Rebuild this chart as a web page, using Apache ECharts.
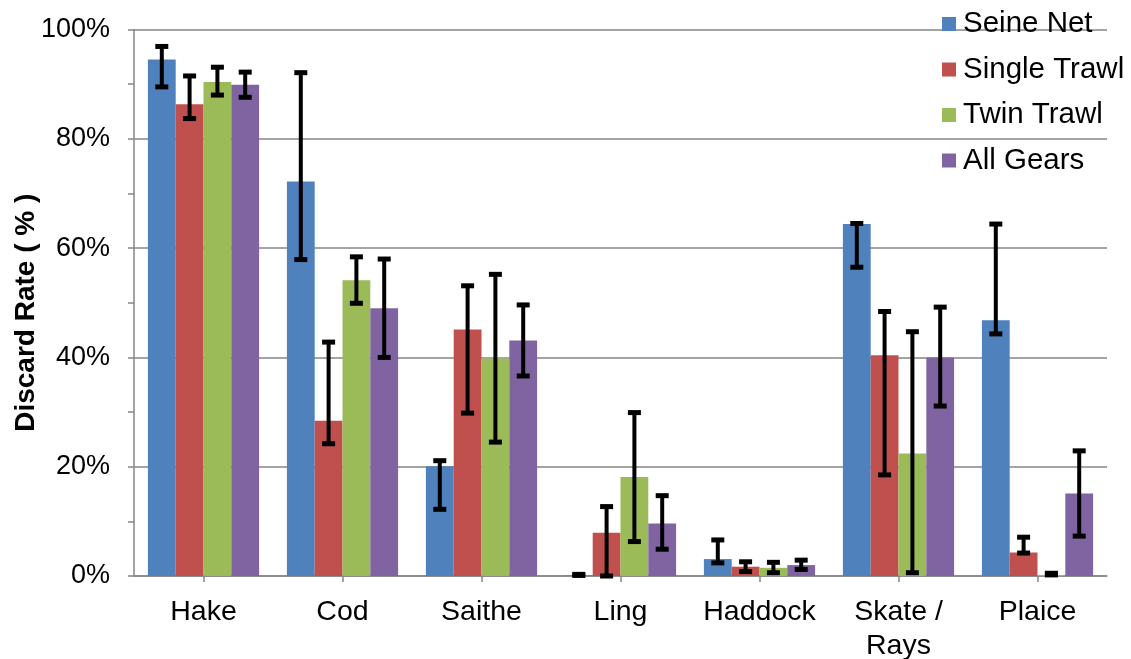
<!DOCTYPE html>
<html>
<head>
<meta charset="utf-8">
<script src="https://cdn.jsdelivr.net/npm/echarts@6/dist/echarts.min.js"></script>
<style>html,body{margin:0;padding:0;background:#fff}#c{width:1131px;height:659px}</style>
</head>
<body>
<div id="c"></div>
<script>
const categories = ['Hake', 'Cod', 'Saithe', 'Ling', 'Haddock', 'Skate /\nRays', 'Plaice'];
const seriesNames = ['Seine Net', 'Single Trawl', 'Twin Trawl', 'All Gears'];
const seineNet    = [94.5, 72.2, 20.1, 0.1, 3.1, 64.4, 46.8];
const singleTrawl = [86.3, 28.4, 45.1, 7.9, 1.7, 40.4, 4.3];
const twinTrawl   = [90.4, 54.1, 39.8, 18.1, 1.5, 22.4, 0.2];
const allGears    = [89.9, 49.0, 43.1, 9.6, 2.0, 40.0, 15.1];
// error bar [low, high]
const seineNetErr    = [[89.5, 96.9], [57.9, 92.1], [12.2, 21.1], [0.1, 0.3], [2.4, 6.6], [56.5, 64.5], [44.3, 64.4]];
const singleTrawlErr = [[83.7, 91.5], [24.2, 42.8], [29.8, 53.1], [0.0, 12.7], [0.8, 2.6], [18.5, 48.4], [4.2, 7.1]];
const twinTrawlErr   = [[88.0, 93.1], [49.9, 58.4], [24.5, 55.2], [6.3, 29.9], [0.6, 2.5], [0.6, 44.7], [0.2, 0.5]];
const allGearsErr    = [[87.6, 92.2], [40.0, 58.0], [36.6, 49.6], [4.9, 14.7], [1.2, 2.9], [31.1, 49.2], [7.3, 22.9]];
const yTicks = [0, 20, 40, 60, 80, 100];

const values = [seineNet, singleTrawl, twinTrawl, allGears];
const errs = [seineNetErr, singleTrawlErr, twinTrawlErr, allGearsErr];
const colors = ['#4F81BD', '#C0504D', '#9BBB59', '#8064A2'];
const FONT = 'Liberation Sans, Arial, sans-serif';
const catGapRatio = 0.2;

function makeErr(si) {
  return {
    type: 'custom',
    name: seriesNames[si] + ' err',
    z: 10,
    data: errs[si].map((e, i) => [i, e[0], e[1]]),
    encode: { x: 0, y: [1, 2] },
    renderItem: function (params, api) {
      const ci = api.value(0);
      const lo = api.coord([ci, api.value(1)]);
      const hi = api.coord([ci, api.value(2)]);
      const band = api.size([1, 0])[0];
      const bw = band * (1 - catGapRatio) / 4;
      const x = lo[0] + (si - 1.5) * bw;
      const cap = 6.5;
      const st = { stroke: '#000', lineWidth: 4 };
      const cs = { stroke: '#000', lineWidth: 5 };
      return {
        type: 'group',
        children: [
          { type: 'line', shape: { x1: x, y1: lo[1], x2: x, y2: hi[1] }, style: st },
          { type: 'line', shape: { x1: x - cap, y1: lo[1], x2: x + cap, y2: lo[1] }, style: cs },
          { type: 'line', shape: { x1: x - cap, y1: hi[1], x2: x + cap, y2: hi[1] }, style: cs }
        ]
      };
    }
  };
}

const series = [];
values.forEach((v, si) => {
  series.push({
    type: 'bar',
    name: seriesNames[si],
    data: v,
    itemStyle: { color: colors[si] },
    barGap: '0%',
    barCategoryGap: (catGapRatio * 100) + '%'
  });
});
values.forEach((v, si) => series.push(makeErr(si)));

const chart = echarts.init(document.getElementById('c'), null, { renderer: 'canvas' });
chart.setOption({
  animation: false,
  backgroundColor: '#fff',
  textStyle: { fontFamily: FONT },
  grid: { left: 134, right: 24, top: 29.5, bottom: 83, containLabel: false, outerBoundsMode: 'none' },
  legend: {
    data: seriesNames,
    orient: 'vertical',
    left: 942,
    top: 9,
    padding: 0,
    icon: 'rect',
    itemWidth: 14,
    itemHeight: 14,
    itemGap: 15.5,
    textStyle: { fontSize: 29.5, lineHeight: 30, color: '#000', fontFamily: FONT, padding: [0, 0, 0, 2] }
  },
  xAxis: {
    type: 'category',
    data: categories,
    axisLine: { lineStyle: { color: '#868686', width: 1.5 } },
    axisTick: { show: true, alignWithLabel: true, length: 6, lineStyle: { color: '#868686', width: 1.5 } },
    axisLabel: { color: '#000', fontSize: 28.5, margin: 19, lineHeight: 34, fontFamily: FONT, interval: 0 }
  },
  yAxis: {
    type: 'value',
    min: 0,
    max: 100,
    interval: 20,
    name: 'Discard Rate ( % )',
    nameLocation: 'middle',
    nameGap: 94,
    nameMoveOverlap: false,
    nameTextStyle: { fontSize: 28, fontWeight: 'bold', color: '#000', fontFamily: FONT, padding: [0, 20, 0, 0] },
    axisLine: { show: true, lineStyle: { color: '#868686', width: 1.5 } },
    axisTick: { show: true, length: 6, lineStyle: { color: '#868686', width: 1.5 } },
    minorTick: { show: true, splitNumber: 2, length: 6, lineStyle: { color: '#868686', width: 1.5 } },
    splitLine: { show: true, lineStyle: { color: '#868686', width: 1.5 } },
    axisLabel: {
      color: '#000', fontSize: 27, margin: 24, fontFamily: FONT,
      formatter: v => yTicks.includes(v) ? v + '%' : ''
    }
  },
  series: series
});
</script>
</body>
</html>
